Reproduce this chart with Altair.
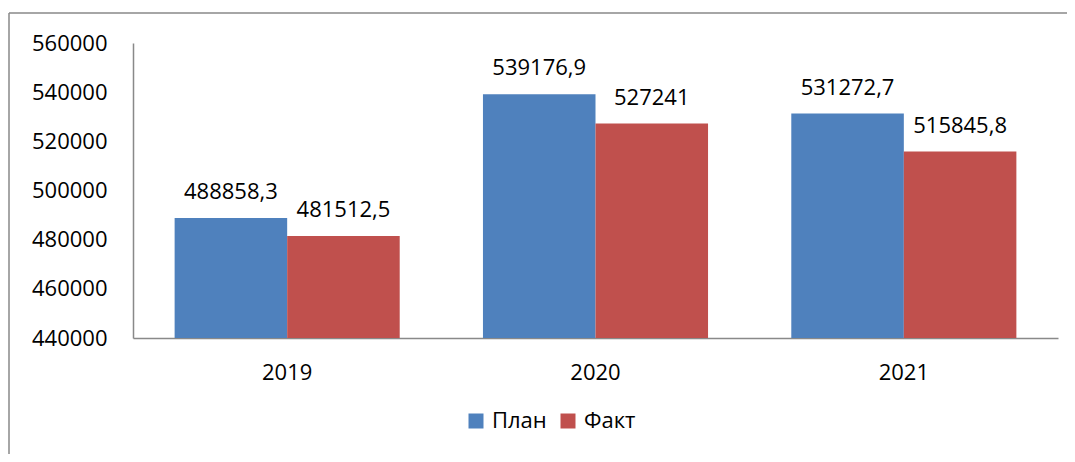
import altair as alt
import pandas as pd

years = ["2019", "2020", "2021"]
series = ["План", "Факт"]
plan = [488858.3, 539176.9, 531272.7]
fact = [481512.5, 527241.0, 515845.8]
colors = ["#4F81BD", "#C0504D"]

def fmt(v):
    s = ("%.1f" % v).rstrip("0").rstrip(".")
    return s.replace(".", ",")

rows = []
for i, y in enumerate(years):
    rows.append({"year": y, "series": series[0], "value": plan[i], "label": fmt(plan[i])})
    rows.append({"year": y, "series": series[1], "value": fact[i], "label": fmt(fact[i])})
df = pd.DataFrame(rows)

FONT = "Open Sans"
GRAY = "#898989"

x_enc = alt.X("year:N", sort=years, title=None,
              scale=alt.Scale(paddingInner=0.27, paddingOuter=0.135),
              axis=alt.Axis(labelAngle=0, labelPadding=24, ticks=False,
                            domainColor=GRAY, domainWidth=1.5))
xo_enc = alt.XOffset("series:N", sort=series,
                     scale=alt.Scale(paddingInner=0, paddingOuter=0))
y_enc = alt.Y("value:Q", title=None,
              scale=alt.Scale(domain=[440000, 560000], nice=False, zero=False),
              axis=alt.Axis(values=[440000, 460000, 480000, 500000, 520000, 540000, 560000],
                            format="d", ticks=False, grid=False, labelPadding=26,
                            domainColor=GRAY, domainWidth=1.5))

base = alt.Chart(df)
bars = base.mark_bar(clip=True).encode(
    x=x_enc, xOffset=xo_enc, y=y_enc,
    color=alt.Color("series:N", sort=series,
                    scale=alt.Scale(domain=series, range=colors),
                    legend=alt.Legend(title=None, orient="none", direction="horizontal",
                                      legendX=332, legendY=367, padding=0,
                                      symbolType="square", symbolSize=225,
                                      symbolStrokeWidth=0, labelOffset=5,
                                      columnPadding=10, labelFont=FONT,
                                      labelFontSize=22, labelColor="black")),
)
labels = base.mark_text(baseline="alphabetic", dy=-19, font=FONT, fontSize=22,
                        color="black").encode(
    x=x_enc, xOffset=xo_enc, y=y_enc, text="label:N")

frame_df = pd.DataFrame({"a": [0]})
frame_top = alt.Chart(frame_df).mark_rule(color=GRAY, strokeWidth=1.5).encode(
    x=alt.value(-124), x2=alt.value(960), y=alt.value(-30))
frame_left = alt.Chart(frame_df).mark_rule(color=GRAY, strokeWidth=1.5).encode(
    x=alt.value(-124), y=alt.value(-30), y2=alt.value(440))

chart = alt.layer(bars, labels, frame_top, frame_left).properties(
    width=925, height=295,
    autosize=alt.AutoSizeParams(type="none"),
    padding={"left": 125, "top": 35, "right": 9, "bottom": 116},
).configure_view(stroke=None).configure_axis(
    labelFont=FONT, labelFontSize=22, labelColor="black"
)

chart.save("out.html", embed_options={"renderer": "svg", "actions": False})
